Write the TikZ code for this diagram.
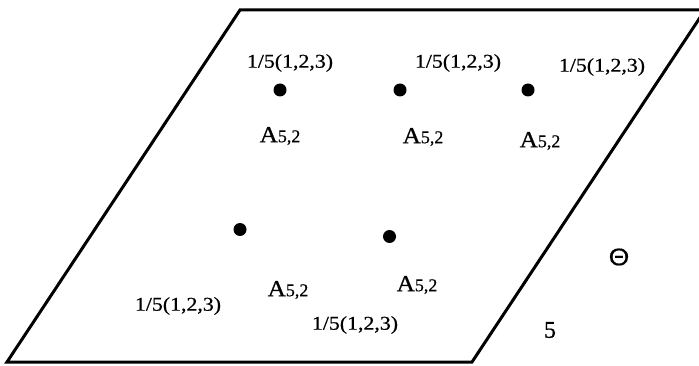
\documentclass[tikz,border=0pt]{standalone}
\usepackage{fontspec}
\usepackage{graphicx}
\setmainfont[FakeBold=0.6]{Liberation Serif}
\newfontfamily\thetafont[FakeBold=0.6]{Liberation Sans}
\newcommand{\fracl}{\scalebox{1.12}[1]{\fontsize{19.5}{22}\selectfont 1/5(1,2,3)}}
\newcommand{\alab}{{\fontsize{23}{25}\selectfont\scalebox{1.1}[1]{A}}{\fontsize{18}{20}\selectfont 5,2}}
\begin{document}
\begin{tikzpicture}[x=1pt,y=-1pt,
  dot/.style={circle,fill=black,inner sep=0pt,minimum size=13pt},
  lab/.style={inner sep=0pt,anchor=center},
  edge/.style={line width=3pt,line join=miter}]
\useasboundingbox (0,0) rectangle (699,366);
\clip (0,0) rectangle (699,366);
\coordinate (bl) at (7,362);
\coordinate (br) at (472,362);
\coordinate (tr) at (705,10);
\coordinate (tl) at (240,10);
\draw[edge] (bl) -- (br) -- (tr) -- (tl) -- cycle;
% dots
\node[dot] (d1) at (280,90) {};
\node[dot] (d2) at (400,90) {};
\node[dot] (d3) at (528,90) {};
\node[dot] (d4) at (240,229.5) {};
\node[dot] (d5) at (389.5,236.5) {};
% fraction labels
\node[lab] (f1) at (290,63) {\fracl};
\node[lab] (f2) at (458,63) {\fracl};
\node[lab] (f3) at (602,67) {\fracl};
\node[lab] (f4) at (178,306) {\fracl};
\node[lab] (f5) at (355,325) {\fracl};
% A labels
\node[lab] (a1) at (280,136) {\alab};
\node[lab] (a2) at (423,137) {\alab};
\node[lab] (a3) at (540,141) {\alab};
\node[lab] (a4) at (288,290) {\alab};
\node[lab] (a5) at (417,285) {\alab};
% others
\node[lab] (theta) at (619,257) {\thetafont\fontsize{24}{26}\selectfont\scalebox{1.1}[1]{Θ}};
\node[lab] (five) at (550,330) {\fontsize{24}{26}\selectfont 5};
\end{tikzpicture}
\end{document}
